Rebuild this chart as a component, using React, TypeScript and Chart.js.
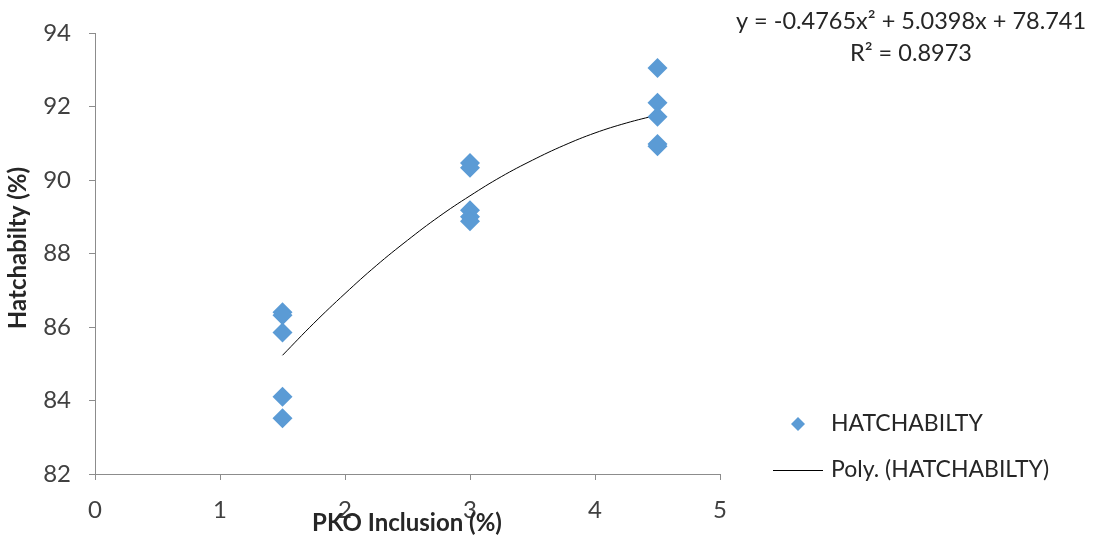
import React, { useEffect, useRef } from "react";
import { Chart, registerables } from "chart.js";

Chart.register(...registerables);

const hatchX = [1.5, 1.5, 1.5, 1.5, 1.5, 3, 3, 3, 3, 3, 4.5, 4.5, 4.5, 4.5, 4.5];
const hatchY = [86.4, 86.32, 85.85, 84.1, 83.52, 90.46, 90.33, 89.18, 89.0, 88.88, 93.05, 92.1, 91.72, 90.98, 90.92];

// Polynomial trend line
const trendX = [1.5, 1.75, 2.0, 2.25, 2.5, 2.75, 3.0, 3.25, 3.5, 3.75, 4.0, 4.25, 4.5];
const trendY = [85.23, 86.1, 86.91, 87.67, 88.36, 89.0, 89.57, 90.09, 90.54, 90.94, 91.28, 91.55, 91.77];

const xTicks = [0, 1, 2, 3, 4, 5];
const yTicks = [82, 84, 86, 88, 90, 92, 94];

const seriesLabel = "HATCHABILTY";
const trendLabel = "Poly. (HATCHABILTY)";
const equationText = "y = -0.4765x² + 5.0398x + 78.741";
const r2Text = "R² = 0.8973";
const xTitle = "PKO Inclusion (%)";
const yTitle = "Hatchabilty (%)";

const FONT = "Lato, 'Open Sans', sans-serif";
const BLUE = "#5B9BD5";
const AXIS = "#8C8C8C";
const TEXT = "#404040";

export default function App() {
  const ref = useRef<HTMLCanvasElement | null>(null);

  useEffect(() => {
    if (!ref.current) return;
    const overlay = {
      id: "overlay",
      afterDraw(chart: any) {
        const ctx = chart.ctx;
        const area = chart.chartArea;
        ctx.save();
        // equation
        ctx.fillStyle = "#262626";
        ctx.font = `23.5px ${FONT}`;
        ctx.textAlign = "center";
        ctx.textBaseline = "middle";
        ctx.fillText(equationText, 911, 21);
        ctx.fillText(r2Text, 911, 53);
        // axis titles
        ctx.font = `bold 24px ${FONT}`;
        ctx.fillStyle = "#262626";
        ctx.fillText(xTitle, 407, 523);
        ctx.save();
        ctx.translate(18, 248);
        ctx.rotate(-Math.PI / 2);
        ctx.fillText(yTitle, 0, 0);
        ctx.restore();
        // legend
        const lx = 798;
        const ly1 = 424;
        const ly2 = 470;
        ctx.fillStyle = BLUE;
        ctx.beginPath();
        ctx.moveTo(lx, ly1 - 7);
        ctx.lineTo(lx + 7, ly1);
        ctx.lineTo(lx, ly1 + 7);
        ctx.lineTo(lx - 7, ly1);
        ctx.closePath();
        ctx.fill();
        ctx.strokeStyle = "#000";
        ctx.lineWidth = 1;
        ctx.beginPath();
        ctx.moveTo(773, ly2 + 0.5);
        ctx.lineTo(823, ly2 + 0.5);
        ctx.stroke();
        ctx.fillStyle = "#262626";
        ctx.font = `23px ${FONT}`;
        ctx.textAlign = "left";
        ctx.fillText(seriesLabel, 831, ly1);
        ctx.fillText(trendLabel, 831, ly2);
        ctx.restore();
      },
    };

    const chart = new Chart(ref.current, {
      type: "scatter",
      data: {
        datasets: [
          {
            label: seriesLabel,
            data: hatchX.map((x, i) => ({ x, y: hatchY[i] })),
            pointStyle: "rectRot",
            pointRadius: 10,
            pointHoverRadius: 10,
            backgroundColor: BLUE,
            borderColor: BLUE,
            borderWidth: 0,
            showLine: false,
          },
          {
            label: trendLabel,
            type: "line",
            data: trendX.map((x, i) => ({ x, y: trendY[i] })),
            borderColor: "#000",
            borderWidth: 1,
            pointRadius: 0,
            tension: 0.4,
            fill: false,
          } as any,
        ],
      },
      options: {
        responsive: false,
        animation: false,
        layout: { padding: { top: 33, right: 374, bottom: 0, left: 0 } },
        plugins: {
          legend: { display: false },
          tooltip: { enabled: false },
        },
        scales: {
          x: {
            type: "linear",
            min: 0,
            max: 5,
            afterBuildTicks: (s: any) => {
              s.ticks = xTicks.map((v) => ({ value: v }));
            },
            afterFit: (s: any) => {
              s.height = 70;
            },
            grid: { drawOnChartArea: false, drawTicks: true, tickLength: 6, color: AXIS },
            border: { color: AXIS, width: 1 },
            ticks: { color: TEXT, font: { size: 24, family: FONT }, padding: 16 },
          },
          y: {
            type: "linear",
            min: 82,
            max: 94,
            afterBuildTicks: (s: any) => {
              s.ticks = yTicks.map((v) => ({ value: v }));
            },
            afterFit: (s: any) => {
              s.width = 95;
            },
            grid: { drawOnChartArea: false, drawTicks: true, tickLength: 6, color: AXIS },
            border: { color: AXIS, width: 1 },
            ticks: { color: TEXT, font: { size: 24, family: FONT }, padding: 18 },
          },
        },
      },
      plugins: [overlay],
    });
    return () => chart.destroy();
  }, []);

  return (
    <div style={{ position: "absolute", left: 0, top: 0, width: 1094, height: 544, background: "#fff" }}>
      <canvas ref={ref} width={1094} height={544} style={{ width: 1094, height: 544 }} />
    </div>
  );
}
